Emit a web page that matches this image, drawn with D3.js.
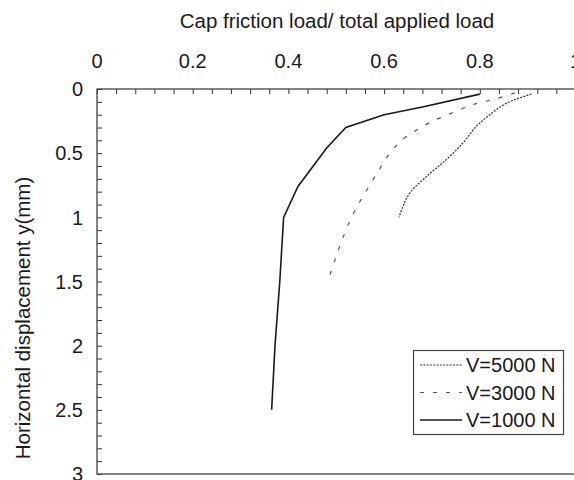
<!DOCTYPE html>
<html>
<head>
<meta charset="utf-8">
<script src="https://cdn.jsdelivr.net/npm/d3@7"></script>
<style>
	body { margin: 0; background: #fff; }
	text { font-family: "Liberation Sans", Arial, sans-serif; fill: #1a1a1a; }
</style>
</head>
<body>
<script>
// data
// x = cap friction load / total applied load, y = horizontal displacement (mm)
var ratio5000 = [0.908, 0.856, 0.821, 0.793, 0.765, 0.730, 0.689, 0.654, 0.640, 0.631];
var disp5000 = [0.04, 0.11, 0.20, 0.29, 0.42, 0.55, 0.68, 0.81, 0.91, 1.0];

var ratio3000 = [0.873, 0.831, 0.796, 0.765, 0.727, 0.696, 0.668, 0.640, 0.612, 0.591, 0.570, 0.549, 0.532, 0.517, 0.505, 0.494, 0.482];
var disp3000 = [0.03, 0.08, 0.11, 0.15, 0.21, 0.26, 0.32, 0.39, 0.50, 0.62, 0.75, 0.88, 1.0, 1.13, 1.25, 1.37, 1.5];

var ratio1000 = [0.80, 0.68, 0.60, 0.52, 0.48, 0.42, 0.39, 0.382, 0.372, 0.365];
var disp1000 = [0.04, 0.14, 0.20, 0.30, 0.46, 0.76, 1.0, 1.5, 2.0, 2.5];

var seriesNames = ["V=5000 N", "V=3000 N", "V=1000 N"];
var xTicks = [0, 0.2, 0.4, 0.6, 0.8, 1];
var yTicks = [0, 0.5, 1, 1.5, 2, 2.5, 3];

var width = 574, height = 480;
var margin = { top: 89, left: 97, bottom: 6 };

var svg = d3.select("body").append("svg")
	.attr("width", width)
	.attr("height", height);

var x = d3.scaleLinear().domain([0, 1]).range([margin.left, 575.5]);
var y = d3.scaleLinear().domain([0, 3]).range([margin.top, height - margin.bottom]);

// minor ticks: 0.04 on x, 0.1 on y
var xMinor = d3.range(0, 1.0001, 0.04);
var yMinor = d3.range(0, 3.0001, 0.1);

// top axis (ticks inside, labels above)
svg.append("g")
	.attr("transform", "translate(0," + y(0) + ")")
	.call(d3.axisBottom(x).tickValues(xMinor).tickSize(5).tickFormat(""))
	.call(function (g) { g.select(".domain").remove(); })
	.selectAll("line").attr("stroke", "#333");

svg.append("g")
	.attr("transform", "translate(" + x(0) + ",0)")
	.call(d3.axisRight(y).tickValues(yMinor).tickSize(5).tickFormat(""))
	.call(function (g) { g.select(".domain").remove(); })
	.selectAll("line").attr("stroke", "#333");

// frame
svg.append("rect")
	.attr("x", x(0)).attr("y", y(0))
	.attr("width", x(1) - x(0)).attr("height", y(3) - y(0))
	.attr("fill", "none").attr("stroke", "#444").attr("stroke-width", 1.3);

// tick labels
svg.selectAll(".xlab").data(xTicks).enter().append("text")
	.attr("class", "xlab")
	.attr("x", function (d) { return x(d); })
	.attr("y", 67.5)
	.attr("text-anchor", "middle")
	.style("font-size", "20px")
	.text(function (d) { return d; });

svg.selectAll(".ylab").data(yTicks).enter().append("text")
	.attr("class", "ylab")
	.attr("x", 83)
	.attr("y", function (d) { return y(d) + 7.3; })
	.attr("text-anchor", "end")
	.style("font-size", "20px")
	.text(function (d) { return d; });

// axis titles
svg.append("text")
	.attr("x", 337).attr("y", 27.5)
	.attr("text-anchor", "middle")
	.style("font-size", "20.5px")
	.text("Cap friction load/ total applied load");

svg.append("text")
	.attr("transform", "translate(30,318) rotate(-90)")
	.attr("text-anchor", "middle")
	.style("font-size", "20.5px")
	.text("Horizontal displacement y(mm)");

// curves - the dotted ones look smooth, the solid one has kinks
var smooth = d3.line()
	.x(function (d) { return x(d[0]); })
	.y(function (d) { return y(d[1]); })
	.curve(d3.curveCatmullRom);
var straight = d3.line()
	.x(function (d) { return x(d[0]); })
	.y(function (d) { return y(d[1]); });

var styles = [
	{ dash: "2,1.3", color: "#333", w: 1.2, line: smooth },
	{ dash: "4,9", color: "#555", w: 1.2, line: smooth },
	{ dash: null, color: "#1a1a1a", w: 1.6, line: straight }
];
var series = [
	d3.zip(ratio5000, disp5000),
	d3.zip(ratio3000, disp3000),
	d3.zip(ratio1000, disp1000)
];

series.forEach(function (pts, i) {
	svg.append("path")
		.attr("d", styles[i].line(pts))
		.attr("fill", "none")
		.attr("stroke", styles[i].color)
		.attr("stroke-width", styles[i].w)
		.attr("stroke-dasharray", styles[i].dash);
});

// legend
var lg = svg.append("g");
lg.append("rect")
	.attr("x", 413.5).attr("y", 350.5)
	.attr("width", 150).attr("height", 84)
	.attr("fill", "#fff").attr("stroke", "#444").attr("stroke-width", 1.2);

seriesNames.forEach(function (name, i) {
	var cy = 365 + i * 27.5;
	lg.append("line")
		.attr("x1", 420).attr("x2", 462)
		.attr("y1", cy).attr("y2", cy)
		.attr("stroke", styles[i].color)
		.attr("stroke-width", styles[i].w)
		.attr("stroke-dasharray", styles[i].dash);
	lg.append("text")
		.attr("x", 466).attr("y", cy + 7)
		.style("font-size", "20px")
		.text(name);
});
</script>
</body>
</html>
